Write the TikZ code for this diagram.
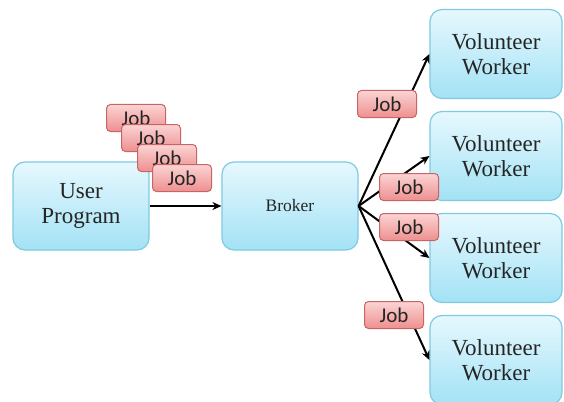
\documentclass[tikz,border=0pt]{standalone}
\usepackage{fontspec}
\setmainfont{Liberation Serif}
\newfontfamily\jobfont{Carlito}
\usetikzlibrary{arrows.meta}
\definecolor{boxtop}{HTML}{E6F8FE}
\definecolor{boxbot}{HTML}{A3E2F5}
\definecolor{boxline}{HTML}{80CAE0}
\definecolor{jobtop}{HTML}{FBD4D4}
\definecolor{jobbot}{HTML}{EE8F8F}
\definecolor{jobline}{HTML}{C86464}
\definecolor{txt}{HTML}{252525}
\begin{document}
\begin{tikzpicture}[x=1pt,y=-1pt,
  bigbox/.style={draw=boxline, line width=1.2pt, rounded corners=12pt,
    top color=boxtop, bottom color=boxbot, minimum width=136pt,
    minimum height=88pt, align=center, text=txt,
    font=\fontsize{23}{25.5}\selectfont},
  workerbox/.style={bigbox, minimum width=132pt, minimum height=89pt},
  jobbox/.style={draw=jobline, line width=1pt, rounded corners=4pt,
    top color=jobtop, bottom color=jobbot, minimum width=59pt,
    minimum height=27pt, inner sep=0pt, text=txt,
    font=\jobfont\fontsize{21}{21}\selectfont},
  conn/.style={draw=black, line width=2pt, -{Stealth[length=9pt,width=8pt]}}]
\useasboundingbox (0,0) rectangle (564,401);

\node[bigbox] (user) at (81,206) {User\\Program};
\node[bigbox, font=\fontsize{17.5}{20}\selectfont] (broker) at (290,206) {Broker};

\node[workerbox] (w1) at (496,54) {Volunteer\\Worker};
\node[workerbox] (w2) at (496,156) {Volunteer\\Worker};
\node[workerbox] (w3) at (496,258) {Volunteer\\Worker};
\node[workerbox] (w4) at (496,360) {Volunteer\\Worker};

\draw[conn] (user.east) -- (broker.west);
\draw[conn] (broker.east) -- (w1.west);
\draw[conn] (broker.east) -- (w2.west);
\draw[conn] (broker.east) -- (w3.west);
\draw[conn] (broker.east) -- (w4.west);

\node[jobbox] (ja) at (136,118) {Job};
\node[jobbox] (jb) at (151,138) {Job};
\node[jobbox] (jc) at (167,158) {Job};
\node[jobbox] (jd) at (182,178) {Job};

\node[jobbox] (j1) at (387,104) {Job};
\node[jobbox] (j2) at (409,187) {Job};
\node[jobbox] (j3) at (409,227) {Job};
\node[jobbox] (j4) at (394,315) {Job};
\end{tikzpicture}
\end{document}
